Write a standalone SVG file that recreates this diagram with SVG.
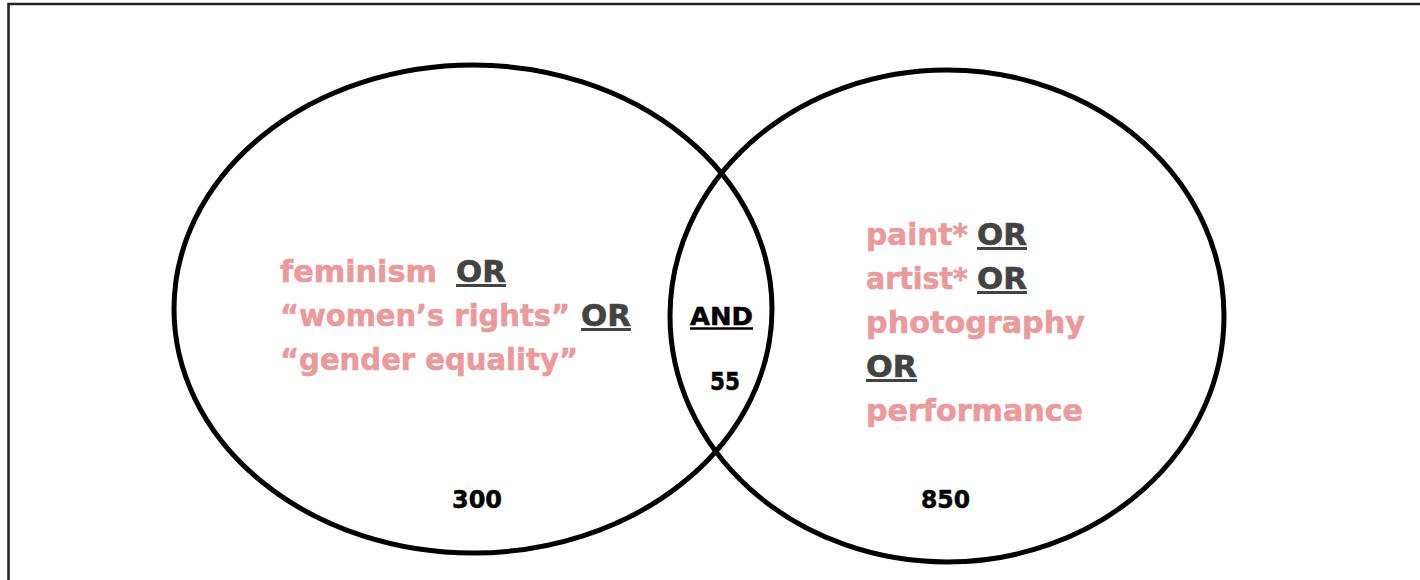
<svg xmlns="http://www.w3.org/2000/svg" width="1420" height="580" viewBox="0 0 1420 580">
<style>
.term{font-family:"DejaVu Sans","Liberation Sans",sans-serif;font-weight:bold;font-size:30px;fill:#EA9A9A;stroke:#EA9A9A;stroke-width:0.6}
.op{font-family:"DejaVu Sans","Liberation Sans",sans-serif;font-weight:bold;font-size:30px;fill:#434343;stroke:#434343;stroke-width:0.6}
.ul{stroke:#434343;stroke-width:3}
.num{font-family:"DejaVu Sans","Liberation Sans",sans-serif;font-weight:bold;font-size:25px;fill:#000;stroke:#000;stroke-width:0.5}
.set{fill:none;stroke:#000;stroke-width:5}
</style>
<rect x="0" y="0" width="1420" height="580" fill="#fff"/>
<rect x="8.5" y="4" width="1430" height="600" fill="none" stroke="#222" stroke-width="2.5"/>
<g id="left-set">
<ellipse class="set" cx="473" cy="309" rx="299" ry="244"/>
<text class="term" x="280" y="282" textLength="157" lengthAdjust="spacingAndGlyphs">feminism</text>
<text class="op" x="456" y="282" textLength="50" lengthAdjust="spacingAndGlyphs">OR</text>
<line class="ul" x1="456" y1="285.5" x2="506" y2="285.5"/>
<text class="term" x="280" y="326" textLength="290" lengthAdjust="spacingAndGlyphs">“women’s rights”</text>
<text class="op" x="581" y="326" textLength="50" lengthAdjust="spacingAndGlyphs">OR</text>
<line class="ul" x1="581" y1="329.5" x2="631" y2="329.5"/>
<text class="term" x="280" y="370" textLength="298" lengthAdjust="spacingAndGlyphs">“gender equality”</text>
<text class="num" x="452" y="508" textLength="50" lengthAdjust="spacingAndGlyphs">300</text>
</g>
<g id="right-set">
<ellipse class="set" cx="947" cy="316" rx="277" ry="246"/>
<text class="term" x="866" y="245" textLength="102" lengthAdjust="spacingAndGlyphs">paint*</text>
<text class="op" x="977" y="245" textLength="50" lengthAdjust="spacingAndGlyphs">OR</text>
<line class="ul" x1="977" y1="248.5" x2="1027" y2="248.5"/>
<text class="term" x="866" y="289" textLength="102" lengthAdjust="spacingAndGlyphs">artist*</text>
<text class="op" x="977" y="289" textLength="50" lengthAdjust="spacingAndGlyphs">OR</text>
<line class="ul" x1="977" y1="292.5" x2="1027" y2="292.5"/>
<text class="term" x="866" y="333" textLength="219" lengthAdjust="spacingAndGlyphs">photography</text>
<text class="op" x="866" y="377" textLength="51" lengthAdjust="spacingAndGlyphs">OR</text>
<line class="ul" x1="866" y1="380.5" x2="917" y2="380.5"/>
<text class="term" x="866" y="421" textLength="217" lengthAdjust="spacingAndGlyphs">performance</text>
<text class="num" x="921" y="508" textLength="49" lengthAdjust="spacingAndGlyphs">850</text>
</g>
<g id="intersection">
<text class="num" x="690" y="325" textLength="63" lengthAdjust="spacingAndGlyphs">AND</text>
<line x1="690" y1="328.5" x2="753" y2="328.5" stroke="#000" stroke-width="2.5"/>
<text class="num" x="710" y="390" textLength="30" lengthAdjust="spacingAndGlyphs">55</text>
</g>
<g id="connectors"></g>
</svg>
